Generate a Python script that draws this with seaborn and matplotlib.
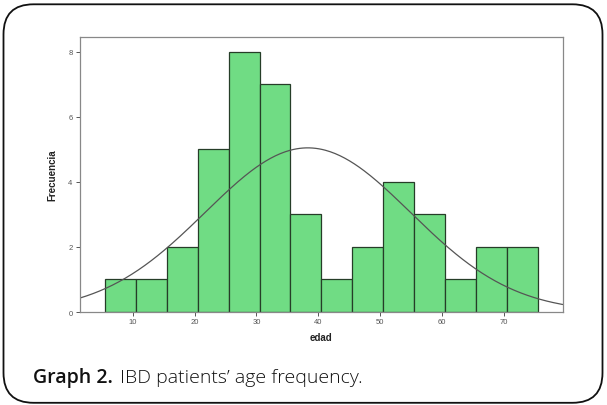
import numpy as np
import pandas as pd
import matplotlib
matplotlib.use("Agg")
import matplotlib.pyplot as plt
from matplotlib.patches import FancyBboxPatch
import seaborn as sns

# SPSS-style histogram: bins of width 5 starting at 5.5
bin_edges = [5.5, 10.5, 15.5, 20.5, 25.5, 30.5, 35.5, 40.5, 45.5, 50.5, 55.5, 60.5, 65.5, 70.5, 75.5]
counts = [1, 1, 2, 5, 8, 7, 3, 1, 2, 4, 3, 1, 2, 2]
age_mean = 38.3
age_sd = 16.6
x_ticks = [10, 20, 30, 40, 50, 60, 70]
y_ticks = [0, 2, 4, 6, 8]

sns.set_theme(style="white")
plt.rcParams['font.family'] = ['Liberation Sans', 'DejaVu Sans']

edges = np.array(bin_edges)
centers = (edges[:-1] + edges[1:]) / 2
df = pd.DataFrame({'edad': centers, 'n': counts})

fig = plt.figure(figsize=(6.07, 4.06), dpi=100)
ax = fig.add_axes([0.132, 0.229, 0.795, 0.677])

sns.histplot(data=df, x='edad', weights='n', bins=bin_edges, ax=ax,
             color='#70dc84', edgecolor='#263d28', linewidth=0.9, alpha=1)

# normal curve fitted to the data (as SPSS draws it)
n_total = sum(counts)
width = edges[1] - edges[0]
xs = np.linspace(1.5, 79.5, 300)
ys = n_total * width / (age_sd * np.sqrt(2 * np.pi)) * np.exp(-0.5 * ((xs - age_mean) / age_sd) ** 2)
sns.lineplot(x=xs, y=ys, ax=ax, color='#555555', linewidth=0.9)

ax.set_xlim(1.5, 79.5)
ax.set_ylim(0, 8.45)
ax.set_xticks(x_ticks)
ax.set_yticks(y_ticks)
ax.tick_params(axis='both', labelsize=5.5, colors='#555555', length=3, width=0.7,
               direction='out', bottom=True, left=True, pad=1.5)
ax.tick_params(axis='y', pad=2.5)
for s in ax.spines.values():
    s.set_color('#888888')
    s.set_linewidth(0.9)
ax.set_xlabel('edad', fontsize=7, fontweight='bold', color='#222222', labelpad=5)
ax.set_ylabel('Frecuencia', fontsize=7, fontweight='bold', color='#222222', labelpad=8)

# caption
fig.text(0.054, 0.057, 'Graph 2.', fontsize=14, fontweight='semibold', color='#111111',
         family=['Open Sans', 'DejaVu Sans'])
fig.text(0.198, 0.057, 'IBD patients\u2019 age frequency.', fontsize=14, color='#111111',
         family=['Open Sans', 'DejaVu Sans'], fontweight='light')

# rounded frame (in inches, 100 px per inch)
frame = FancyBboxPatch((0.035, 0.022), 5.99, 3.985,
                       boxstyle="round,pad=0,rounding_size=0.3",
                       transform=fig.dpi_scale_trans, fill=False,
                       edgecolor='#111111', linewidth=1.3)
fig.patches.append(frame)

fig.savefig('out.png', dpi=100)
